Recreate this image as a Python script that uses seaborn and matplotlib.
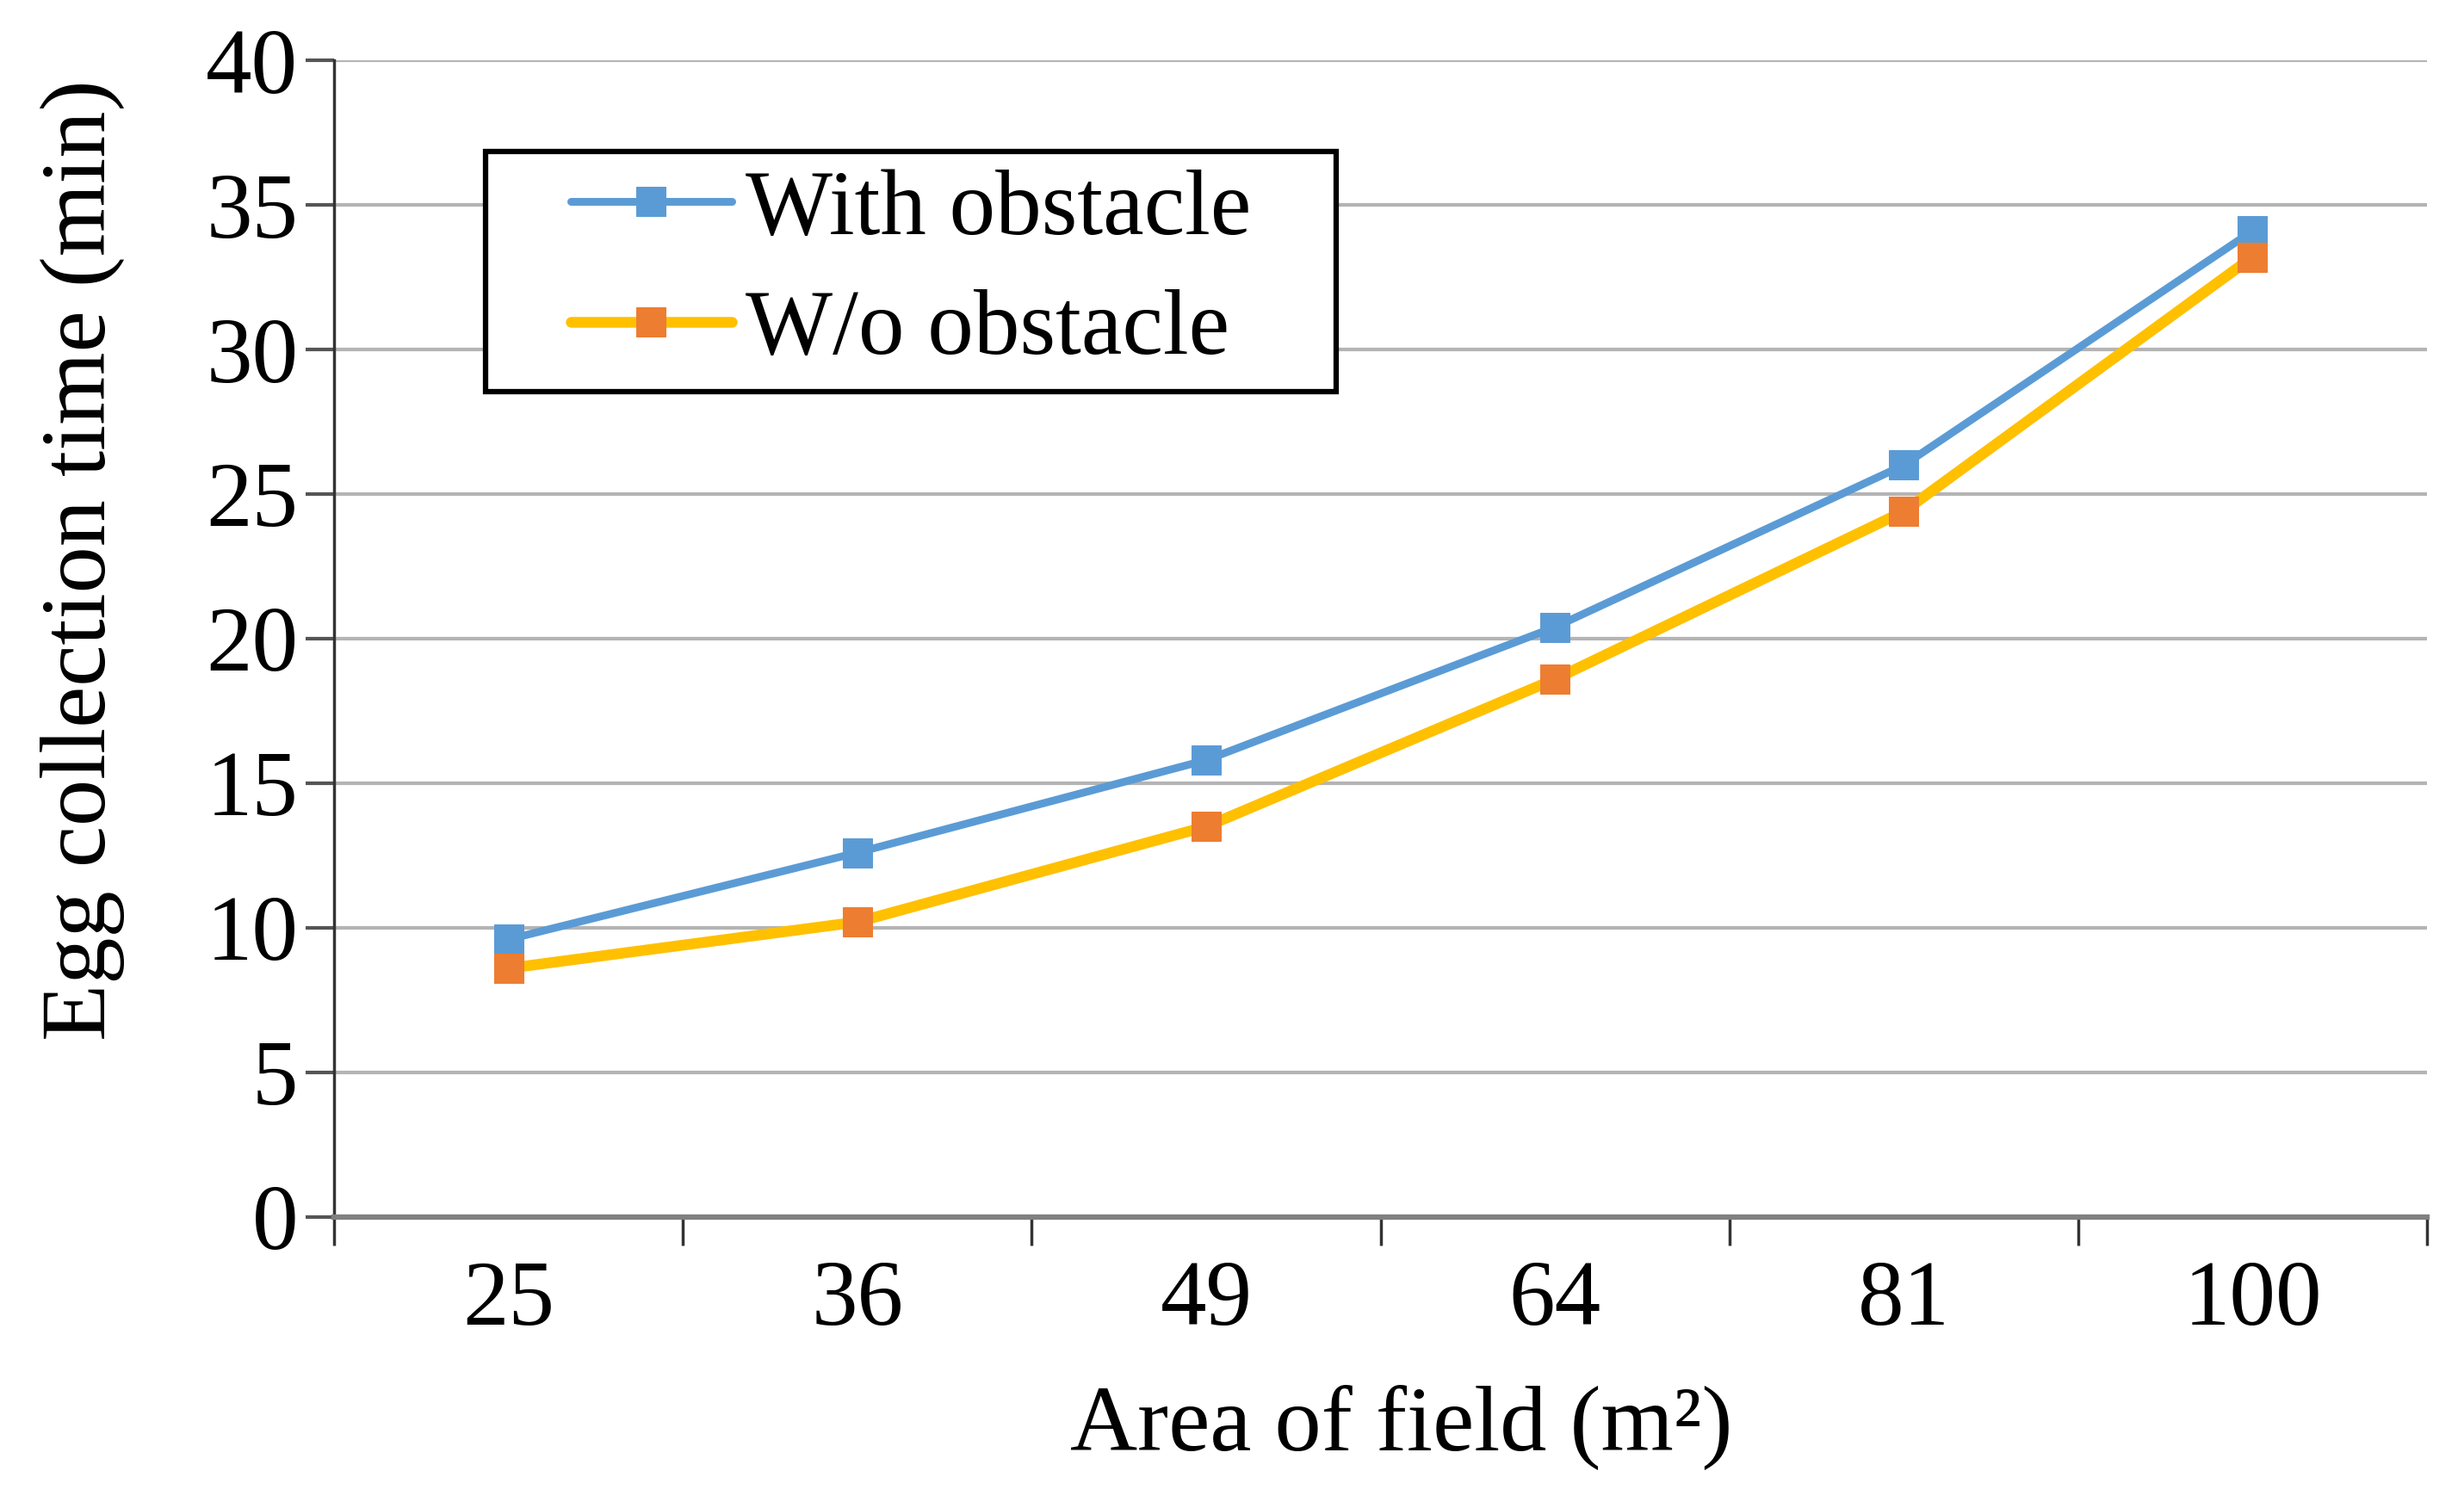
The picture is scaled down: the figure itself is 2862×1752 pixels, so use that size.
import matplotlib
matplotlib.use("Agg")
import matplotlib.pyplot as plt
import matplotlib.patches as mpatches
import pandas as pd
import seaborn as sns

# values
areas = ["25", "36", "49", "64", "81", "100"]
with_obstacle = [9.6, 12.6, 15.8, 20.4, 26.0, 34.1]
without_obstacle = [8.6, 10.2, 13.5, 18.6, 24.4, 33.2]
y_ticks = [0, 5, 10, 15, 20, 25, 30, 35, 40]

sns.set_theme(style="white")
plt.rcParams["font.family"] = ["Liberation Serif", "DejaVu Serif"]
plt.rcParams["text.color"] = "black"
plt.rcParams["axes.labelcolor"] = "black"
plt.rcParams["xtick.color"] = "black"
plt.rcParams["ytick.color"] = "black"

df = pd.DataFrame({"area": areas, "with": with_obstacle, "without": without_obstacle})

fig = plt.figure(figsize=(28.62, 17.52), dpi=100)
ax = fig.add_axes([0.1356, 0.193, 0.8494, 0.767])

sns.lineplot(data=df, x="area", y="with", ax=ax, color="#5B9BD5", linewidth=6.5,
             marker="s", markersize=25, markerfacecolor="#5B9BD5",
             markeredgecolor="#5B9BD5", label="With obstacle", sort=False)
sns.lineplot(data=df, x="area", y="without", ax=ax, color="#FFC000", linewidth=9,
             marker="s", markersize=25, markerfacecolor="#ED7D31",
             markeredgecolor="#ED7D31", label="W/o obstacle", sort=False)

ax.set_xlim(-0.5, len(areas) - 0.5)
ax.set_ylim(0, 40)
ax.set_yticks(y_ticks)
ax.yaxis.grid(True, color="#B4B4B4", linewidth=3)
ax.xaxis.grid(False)

# category axis: labels centred, tick marks between categories
ax.set_xticks(range(len(areas)))
ax.set_xticklabels(areas)
ax.set_xticks([i - 0.5 for i in range(len(areas) + 1)], minor=True)
ax.tick_params(axis="x", which="major", length=0, pad=36, labelsize=77)
ax.tick_params(axis="x", which="minor", length=24, width=2.5, color="#333333",
               direction="out", bottom=True)
ax.tick_params(axis="y", length=24, width=3, color="#555555", direction="out",
               left=True, labelsize=77, pad=6)

for side in ["top", "right"]:
    ax.spines[side].set_visible(False)
ax.spines["left"].set_color("#333333")
ax.spines["left"].set_linewidth(2.5)
ax.spines["bottom"].set_color("#808080")
ax.spines["bottom"].set_linewidth(4.5)

ax.set_xlabel("Area of field (m²)", fontsize=78)
ax.xaxis.set_label_coords(0.51, -0.145)
ax.set_ylabel("Egg collection time (min)", fontsize=78)
ax.yaxis.set_label_coords(-0.1, 0.568)

# legend with a plain black box (wider side padding than matplotlib's own frame)
leg = ax.legend(loc="center", bbox_to_anchor=(0.2756, 0.8174), frameon=False,
                fontsize=77, handlelength=1.75, handletextpad=0.15,
                borderpad=0, labelspacing=0.39)
ax.add_patch(mpatches.Rectangle((0.0723, 0.7139), 0.4066, 0.2071,
                                transform=ax.transAxes, facecolor="white",
                                edgecolor="black", linewidth=4.5, zorder=4))
leg.set_zorder(5)

fig.savefig("out.png", dpi=100, facecolor="white")
